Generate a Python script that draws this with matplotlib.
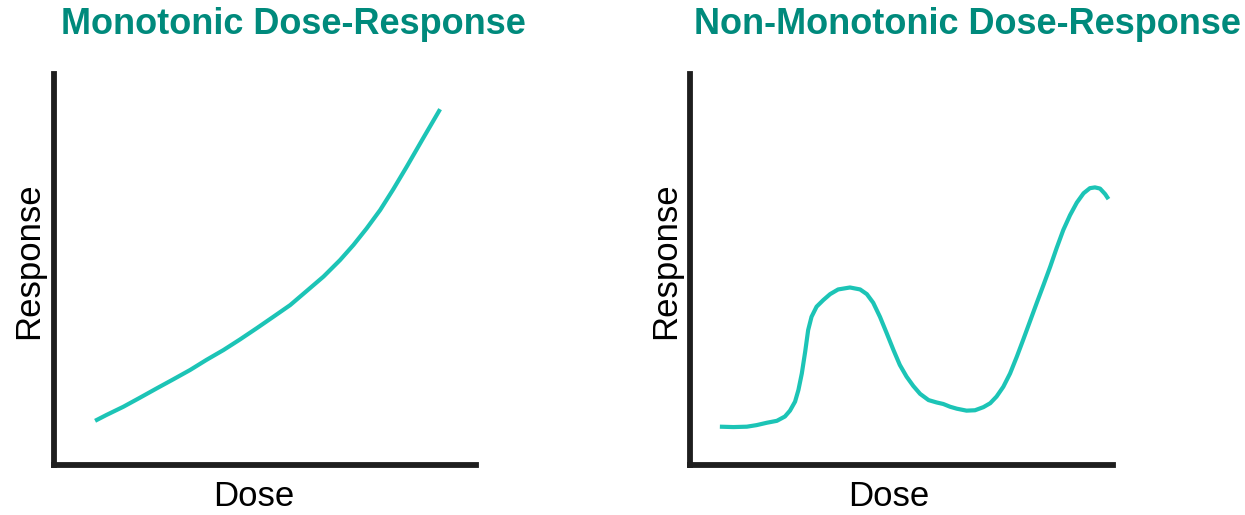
import matplotlib
matplotlib.use("Agg")
import matplotlib.pyplot as plt

# ---------------------------------------------------------------------------
# Data (arbitrary 0-10 units on both axes)
# ---------------------------------------------------------------------------
mono_dose = [0.98, 1.25, 1.65, 2.04, 2.44, 2.83, 3.23, 3.62, 4.02, 4.41, 4.81, 5.20,
             5.60, 5.99, 6.39, 6.78, 7.10, 7.41, 7.73, 8.04, 8.36, 8.75, 9.15]
mono_resp = [1.13, 1.28, 1.49, 1.72, 1.96, 2.19, 2.43, 2.69, 2.94, 3.21, 3.50, 3.79,
             4.09, 4.45, 4.82, 5.24, 5.63, 6.05, 6.52, 7.05, 7.63, 8.36, 9.10]

nonmono_dose = [0.70, 1.02, 1.34, 1.57, 1.81, 2.05, 2.24, 2.36, 2.48, 2.56, 2.64,
                2.72, 2.79, 2.87, 2.99, 3.15, 3.31, 3.50, 3.78, 4.02, 4.18, 4.33,
                4.49, 4.65, 4.81, 4.96, 5.12, 5.28, 5.44, 5.64, 5.83, 5.99, 6.15,
                6.31, 6.54, 6.74, 6.94, 7.10, 7.25, 7.41, 7.57, 7.73, 7.88, 8.04,
                8.20, 8.36, 8.52, 8.67, 8.83, 8.99, 9.15, 9.31, 9.46, 9.58, 9.70,
                9.82, 9.90]
nonmono_resp = [0.98, 0.97, 0.98, 1.02, 1.08, 1.13, 1.24, 1.39, 1.62, 1.92, 2.34,
                2.90, 3.45, 3.79, 4.05, 4.22, 4.37, 4.49, 4.54, 4.49, 4.37, 4.15,
                3.79, 3.37, 2.94, 2.56, 2.26, 2.02, 1.82, 1.66, 1.60, 1.56, 1.49,
                1.44, 1.39, 1.40, 1.48, 1.58, 1.75, 2.00, 2.34, 2.77, 3.20, 3.67,
                4.14, 4.60, 5.07, 5.54, 6.01, 6.39, 6.71, 6.95, 7.08, 7.10, 7.07,
                6.93, 6.80]

titles = ["Monotonic Dose-Response", "Non-Monotonic Dose-Response"]
x_label = "Dose"
y_label = "Response"

CURVE = "#1cc4b6"
TITLE = "#008a7c"
AXIS = "#1e1e1e"

plt.rcParams["font.family"] = ["Liberation Sans", "DejaVu Sans"]

W, H = 1245, 515
fig = plt.figure(figsize=(W / 100, H / 100), dpi=100)


def px(x, y):
    """Pixel position (top-left origin) -> figure fraction."""
    return x / W, 1 - y / H


def make_axes(left_px, right_px, top_px=74, bottom_px=465):
    l, b = px(left_px, bottom_px)
    r, t = px(right_px, top_px)
    ax = fig.add_axes([l, b, r - l, t - b])
    ax.set_xlim(0, 10)
    ax.set_ylim(0, 10)
    for side in ("top", "right"):
        ax.spines[side].set_visible(False)
    for side in ("left", "bottom"):
        ax.spines[side].set_linewidth(4.2)
        ax.spines[side].set_color(AXIS)
        ax.spines[side].set_capstyle("projecting")
    ax.set_xticks([])
    ax.set_yticks([])
    ax.patch.set_alpha(0)
    return ax


ax1 = make_axes(53.7, 476)
ax1.plot(mono_dose, mono_resp, color=CURVE, lw=3.0, solid_capstyle="butt",
         solid_joinstyle="round", clip_on=False)

ax2 = make_axes(690.3, 1112.7)
ax2.plot(nonmono_dose, nonmono_resp, color=CURVE, lw=3.0, solid_capstyle="butt",
         solid_joinstyle="round", clip_on=False)

# titles and axis labels
for (cx, title) in zip([293, 967], titles):
    fig.text(*px(cx, 34), title, ha="center", va="baseline", fontsize=26,
             fontweight="bold", color=TITLE)

for cx in [254, 889]:
    fig.text(*px(cx, 497), x_label, ha="center", va="center", fontsize=25, color="black")

for cx in [29, 666]:
    fig.text(*px(cx, 261), y_label, ha="center", va="center", rotation=90,
             fontsize=25, color="black")

fig.savefig("out.png", dpi=100)
